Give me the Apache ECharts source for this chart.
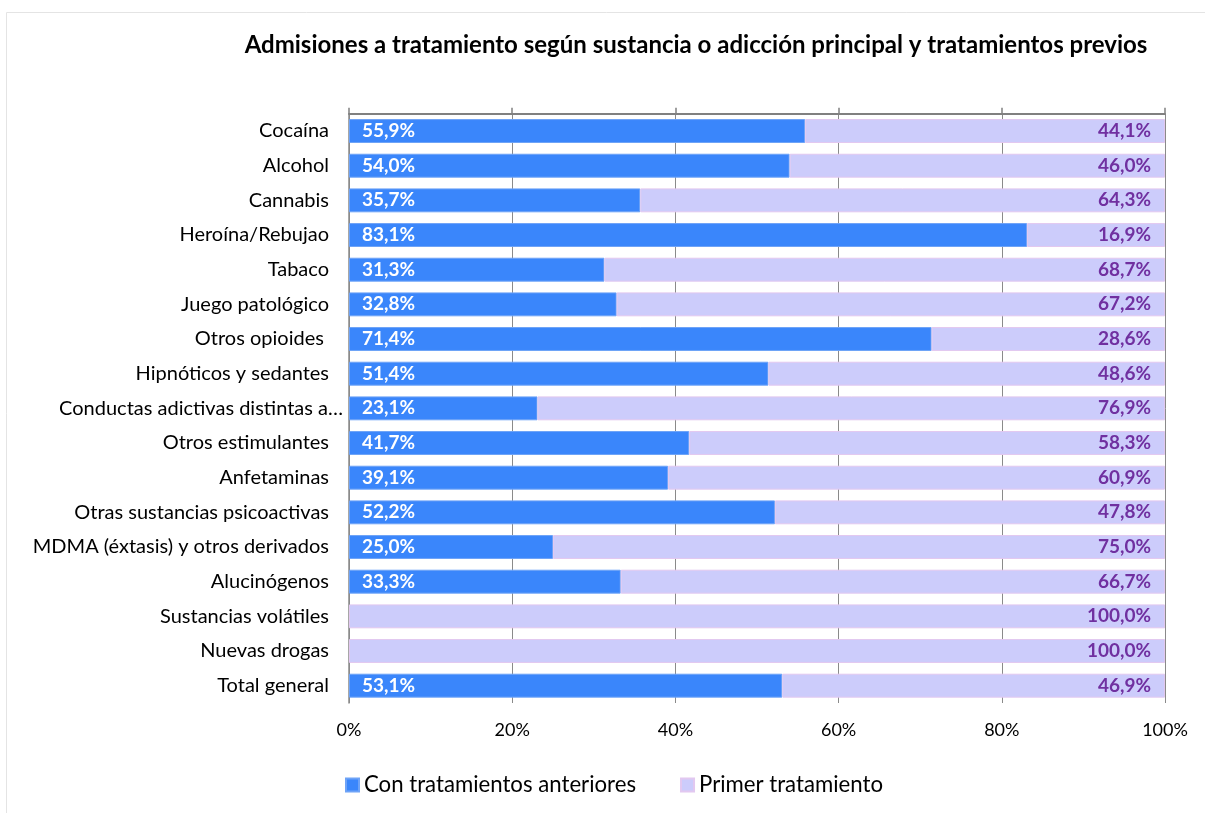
<!DOCTYPE html>
<html lang="es">
<head>
<meta charset="utf-8">
<title>Admisiones a tratamiento</title>
<script src="https://cdn.jsdelivr.net/npm/echarts@6/dist/echarts.min.js"></script>
<style>
  html, body { margin: 0; padding: 0; background: #ffffff; }
  #chart { width: 1205px; height: 813px; }
</style>
</head>
<body>
<div id="chart"></div>
<script>
// Sustancia o adicción principal (de arriba abajo)
const categories = [
  'Cocaína', 'Alcohol', 'Cannabis', 'Heroína/Rebujao', 'Tabaco',
  'Juego patológico', 'Otros opioides ', 'Hipnóticos y sedantes',
  'Conductas adictivas distintas a…', 'Otros estimulantes', 'Anfetaminas',
  'Otras sustancias psicoactivas', 'MDMA (éxtasis) y otros derivados',
  'Alucinógenos', 'Sustancias volátiles', 'Nuevas drogas', 'Total general'
];

// Porcentaje de admisiones con tratamientos anteriores
const conTratamientos = [
  55.9, 54.0, 35.7, 83.1, 31.3, 32.8, 71.4, 51.4, 23.1,
  41.7, 39.1, 52.2, 25.0, 33.3, 0, 0, 53.1
];

// Porcentaje de admisiones en primer tratamiento
const primerTratamiento = [
  44.1, 46.0, 64.3, 16.9, 68.7, 67.2, 28.6, 48.6, 76.9,
  58.3, 60.9, 47.8, 75.0, 66.7, 100.0, 100.0, 46.9
];

const seriesNames = ['Con tratamientos anteriores', 'Primer tratamiento'];

const FONT = 'Lato, "Open Sans", sans-serif';
const fmtPct = v => v.toFixed(1).replace('.', ',') + '%';

// Segments with no value get no outline, so nothing shows at the axis
const asBarData = values => values.map(v => (v > 0 ? v : { value: v, itemStyle: { borderWidth: 0 } }));

const chart = echarts.init(document.getElementById('chart'), null, { renderer: 'canvas' });

chart.setOption({
  backgroundColor: '#ffffff',
  animation: false,
  title: {
    text: 'Admisiones a tratamiento según sustancia o adicción principal y tratamientos previos',
    left: 691,
    top: 28,
    textAlign: 'center',
    textStyle: { fontFamily: FONT, fontSize: 24, fontWeight: 'bold', color: '#000000' }
  },
  graphic: [
    {
      type: 'polyline',
      silent: true,
      shape: { points: [[6.5, 900], [6.5, 12.5], [1300, 12.5]] },
      style: { stroke: '#e4e4e4', lineWidth: 1, fill: null }
    }
  ],
  legend: {
    data: seriesNames,
    left: 345,
    top: 774,
    padding: 0,
    itemWidth: 13,
    itemHeight: 13,
    itemGap: 44,
    icon: 'rect',
    textStyle: { fontFamily: FONT, fontSize: 22.2, color: '#000000' }
  },
  grid: { left: 349, right: 40, top: 113.7, bottom: 110, containLabel: false },
  xAxis: [
    {
      type: 'value',
      position: 'bottom',
      min: 0,
      max: 100,
      interval: 20,
      axisLine: { show: false },
      axisTick: { show: false },
      axisLabel: {
        margin: 18,
        formatter: v => v + '%',
        fontFamily: FONT, fontSize: 18, color: '#000000'
      },
      splitLine: { show: true, lineStyle: { color: '#8a8a8a', width: 1 } }
    },
    {
      type: 'value',
      position: 'top',
      min: 0,
      max: 100,
      interval: 20,
      axisLine: { show: true, lineStyle: { color: '#808080', width: 2 } },
      axisTick: { show: true, inside: false, length: 6, lineStyle: { color: '#808080', width: 1.5 } },
      axisLabel: { show: false },
      splitLine: { show: false }
    }
  ],
  yAxis: {
    type: 'category',
    data: categories,
    inverse: true,
    axisLine: { show: true, lineStyle: { color: '#8a8a8a', width: 1.5 } },
    axisTick: { show: false },
    axisLabel: {
      margin: 6,
      // truncated names sit closer to the axis than full ones
      formatter: v => (v.endsWith('…') ? '{cut|' + v + '}' : '{full|' + v + '}'),
      rich: {
        full: { fontFamily: FONT, fontSize: 20, color: '#000000', padding: [0, 14, 0, 0] },
        cut: { fontFamily: FONT, fontSize: 20, color: '#000000', padding: [0, 0, 0, 0] }
      }
    }
  },
  series: [
    {
      name: seriesNames[0],
      type: 'bar',
      stack: 'total',
      xAxisIndex: 0,
      barCategoryGap: '31%',
      data: asBarData(conTratamientos),
      itemStyle: { color: '#3a86fb', borderColor: '#6ea3f7', borderWidth: 1 },
      label: {
        show: true,
        position: 'insideLeft',
        distance: 13,
        formatter: p => (p.value > 0 ? fmtPct(p.value) : ''),
        fontFamily: FONT, fontSize: 19, fontWeight: 'bold', color: '#ffffff'
      }
    },
    {
      name: seriesNames[1],
      type: 'bar',
      stack: 'total',
      xAxisIndex: 0,
      barCategoryGap: '31%',
      data: asBarData(primerTratamiento),
      itemStyle: { color: '#ccccfb', borderColor: '#e2c8f0', borderWidth: 1 },
      label: {
        show: true,
        position: 'insideRight',
        distance: 14,
        formatter: p => fmtPct(p.value),
        fontFamily: FONT, fontSize: 19, fontWeight: 'bold', color: '#7030a0'
      }
    }
  ]
});
</script>
</body>
</html>
